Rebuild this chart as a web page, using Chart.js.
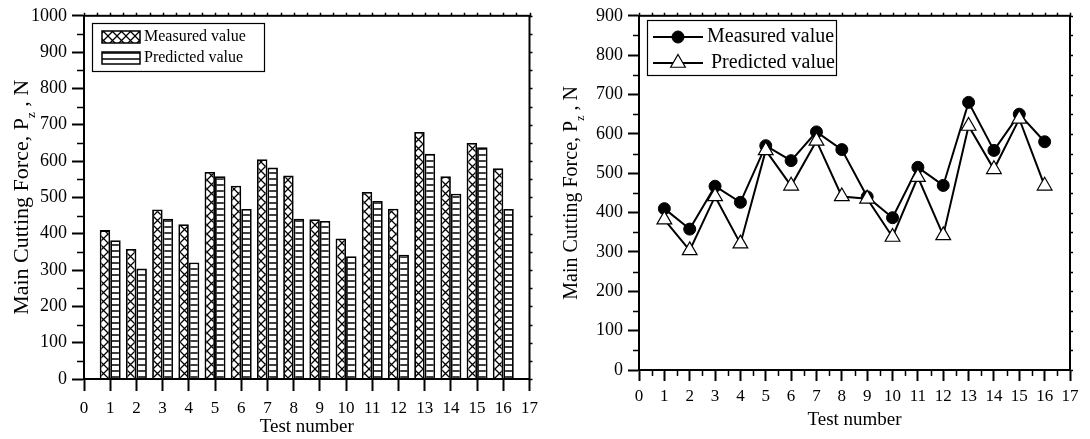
<!DOCTYPE html>
<html>
<head>
<meta charset="utf-8">
<script src="https://cdn.jsdelivr.net/npm/chart.js@4.4.1/dist/chart.umd.min.js"></script>
<style>
  html, body { margin: 0; padding: 0; background: #fff; }
  #wrap { position: relative; width: 1090px; height: 439px; }
  canvas { position: absolute; top: 0; }
  #left { left: 0; }
  #right { left: 545px; }
</style>
</head>
<body>
<div id="wrap">
  <canvas id="left" width="545" height="439"></canvas>
  <canvas id="right" width="545" height="439"></canvas>
</div>
<script>
// data
const testNo = [1, 2, 3, 4, 5, 6, 7, 8, 9, 10, 11, 12, 13, 14, 15, 16];
const measured = [410, 358, 467, 426, 570, 532, 605, 560, 440, 387, 515, 469, 680, 558, 650, 580];
const predicted = [382, 304, 441, 321, 558, 468, 582, 441, 435, 338, 490, 342, 620, 510, 638, 468];
const seriesNames = ["Measured value", "Predicted value"];
const xTitle = "Test number";
const yTitleParts = ["Main Cutting Force, P", "z", " , N"];

const FONT = '"Liberation Serif", "Times New Roman", serif';
Chart.defaults.font.family = FONT;
Chart.defaults.color = "#000";

const pts = vals => testNo.map((t, i) => ({ x: t, y: vals[i] }));

// fill patterns for the bars
function hatch(ctx, kind) {
  const s = kind === "cross" ? 9 : 6;
  const c = document.createElement("canvas");
  c.width = s; c.height = s;
  const g = c.getContext("2d");
  g.fillStyle = "#fff";
  g.fillRect(0, 0, s, s);
  g.strokeStyle = "#000";
  g.lineWidth = kind === "cross" ? 1.25 : 1.5;
  g.beginPath();
  if (kind === "cross") {
    g.moveTo(-1, -1); g.lineTo(s + 1, s + 1);
    g.moveTo(s + 1, -1); g.lineTo(-1, s + 1);
  } else {
    g.moveTo(0, s - 1); g.lineTo(s, s - 1);
  }
  g.stroke();
  return ctx.createPattern(c, "repeat");
}

// box, minor ticks and small outer ticks
const frame = {
  id: "frame",
  afterDraw(chart, args, o) {
    const { ctx, chartArea: a, scales: { x, y } } = chart;
    ctx.save();
    ctx.strokeStyle = "#000";
    ctx.lineWidth = 2;
    ctx.strokeRect(a.left, a.top, a.right - a.left, a.bottom - a.top);
    ctx.lineWidth = 1.5;
    ctx.beginPath();
    for (let v = 0; v <= y.max; v += o.yMinor) {
      const py = Math.round(y.getPixelForValue(v)) + 0.5;
      if (v % o.yMajor) { ctx.moveTo(a.left, py); ctx.lineTo(a.left - o.minorLen, py); }
      ctx.moveTo(a.right, py); ctx.lineTo(a.right + 3, py);
    }
    for (let v = 0; v <= x.max; v += o.xMinor) {
      const px = Math.round(x.getPixelForValue(v)) + 0.5;
      if (o.xMinorBottom && v % 1) { ctx.moveTo(px, a.bottom); ctx.lineTo(px, a.bottom + o.minorLen); }
      ctx.moveTo(px, a.top); ctx.lineTo(px, a.top - 3);
    }
    ctx.stroke();
    ctx.restore();
  }
};

// rotated y title with subscript
const yTitle = {
  id: "yTitle",
  afterDraw(chart, args, o) {
    const { ctx, chartArea: a } = chart;
    const big = o.size + "px " + FONT;
    const small = Math.round(o.size * 0.6) + "px " + FONT;
    ctx.save();
    ctx.translate(o.x, (a.top + a.bottom) / 2);
    ctx.rotate(-Math.PI / 2);
    ctx.fillStyle = "#000";
    ctx.textBaseline = "middle";
    ctx.font = big;
    const w0 = ctx.measureText(yTitleParts[0]).width;
    const w2 = ctx.measureText(yTitleParts[2]).width;
    ctx.font = small;
    const w1 = ctx.measureText(yTitleParts[1]).width;
    let cx = -(w0 + w1 + w2) / 2;
    ctx.font = big; ctx.fillText(yTitleParts[0], cx, 0); cx += w0;
    ctx.font = small; ctx.fillText(yTitleParts[1], cx, o.size * 0.42); cx += w1;
    ctx.font = big; ctx.fillText(yTitleParts[2], cx, 0);
    ctx.restore();
  }
};

// boxed legend inside the plot
const boxLegend = {
  id: "boxLegend",
  afterDraw(chart, args, o) {
    const ctx = chart.ctx;
    ctx.save();
    ctx.strokeStyle = "#000";
    ctx.lineWidth = 1.2;
    ctx.strokeRect(o.x + 0.5, o.y + 0.5, o.w, o.h);
    ctx.textBaseline = "middle";
    chart.data.datasets.forEach((ds, i) => {
      const cy = o.rows[i];
      if (chart.config.type === "bar") {
        ctx.fillStyle = ds.backgroundColor;
        ctx.fillRect(o.sx, cy - o.sh / 2, o.sw, o.sh);
        ctx.lineWidth = 1.5;
        ctx.strokeRect(o.sx, cy - o.sh / 2, o.sw, o.sh);
      } else {
        ctx.lineWidth = ds.borderWidth;
        ctx.beginPath();
        ctx.moveTo(o.sx, cy); ctx.lineTo(o.sx + o.sw, cy);
        ctx.stroke();
        const mx = o.sx + o.sw / 2, r = ds.pointRadius;
        ctx.beginPath();
        if (ds.pointStyle === "triangle") {
          for (let k = 0; k < 3; k++) {
            const ang = k * 2 * Math.PI / 3;
            ctx[k ? "lineTo" : "moveTo"](mx + Math.sin(ang) * r, cy - Math.cos(ang) * r);
          }
          ctx.closePath();
        } else {
          ctx.arc(mx, cy, r, 0, 2 * Math.PI);
        }
        ctx.fillStyle = ds.pointBackgroundColor;
        ctx.fill();
        ctx.lineWidth = ds.pointBorderWidth || 1;
        ctx.stroke();
      }
      ctx.fillStyle = "#000";
      ctx.font = o.fontSize + "px " + FONT;
      ctx.fillText(ds.label, o.tx[i], cy);
    });
    ctx.restore();
  }
};

function axes(yMax, tl, xPad, yPad, xHeight, yWidth, titlePad) {
  const grid = { drawOnChartArea: false, offset: false, tickLength: tl, tickWidth: 2, tickColor: "#000" };
  return {
    x: {
      type: "linear", min: 0, max: 17, offset: false,
      ticks: { stepSize: 1, padding: xPad, font: { size: 17 }, maxRotation: 0, autoSkip: false },
      grid: grid,
      border: { color: "#000", width: 2 },
      title: { display: true, text: xTitle, font: { size: 19 }, padding: { top: 0, bottom: titlePad } },
      afterFit(s) { s.height = xHeight; }
    },
    y: {
      min: 0, max: yMax,
      ticks: { stepSize: 100, padding: yPad, font: { size: 18 }, format: { useGrouping: false } },
      grid: grid,
      border: { color: "#000", width: 2 },
      afterFit(s) { s.width = yWidth; }
    }
  };
}

// left: bar chart
const leftCtx = document.getElementById("left").getContext("2d");
new Chart(leftCtx, {
  type: "bar",
  data: {
    datasets: [
      { label: seriesNames[0], data: pts(measured), backgroundColor: hatch(leftCtx, "cross"),
        borderColor: "#000", borderWidth: 1.8, categoryPercentage: 0.8, barPercentage: 1 },
      { label: seriesNames[1], data: pts(predicted), backgroundColor: hatch(leftCtx, "lines"),
        borderColor: "#000", borderWidth: 1.8, categoryPercentage: 0.8, barPercentage: 1 }
    ]
  },
  options: {
    responsive: false,
    animation: false,
    layout: { padding: { left: 0, right: 12, top: 15, bottom: 0 } },
    plugins: {
      legend: { display: false },
      tooltip: { enabled: false },
      frame: { yMinor: 50, yMajor: 100, xMinor: 0.5, xMinorBottom: false, minorLen: 7 },
      yTitle: { x: 22, size: 22 },
      boxLegend: { x: 92, y: 23, w: 172, h: 48, sx: 102, sw: 38, sh: 12, rows: [37, 58], tx: [144, 144], fontSize: 16 }
    },
    scales: axes(1000, 12, 7, 5, 60, 84, 1)
  },
  plugins: [frame, yTitle, boxLegend]
});

// right: line chart
new Chart(document.getElementById("right"), {
  type: "line",
  data: {
    datasets: [
      { label: seriesNames[0], data: pts(measured), borderColor: "#000", borderWidth: 2,
        pointStyle: "circle", pointRadius: 6, pointBackgroundColor: "#000", pointBorderColor: "#000",
        pointBorderWidth: 1, tension: 0, order: 1 },
      { label: seriesNames[1], data: pts(predicted), borderColor: "#000", borderWidth: 2,
        pointStyle: "triangle", pointRadius: 8.5, pointBackgroundColor: "#fff", pointBorderColor: "#000",
        pointBorderWidth: 1.2, tension: 0, order: 0 }
    ]
  },
  options: {
    responsive: false,
    animation: false,
    layout: { padding: { left: 0, right: 20, top: 13, bottom: 0 } },
    plugins: {
      legend: { display: false },
      tooltip: { enabled: false },
      frame: { yMinor: 50, yMajor: 100, xMinor: 0.5, xMinorBottom: true, minorLen: 6 },
      yTitle: { x: 27, size: 20 },
      boxLegend: { x: 102, y: 20, w: 189, h: 55, sx: 108, sw: 50, rows: [37, 63], tx: [162, 166], fontSize: 20 }
    },
    scales: axes(900, 11, 5, 5, 69, 94, 8)
  },
  plugins: [frame, yTitle, boxLegend]
});
</script>
</body>
</html>
